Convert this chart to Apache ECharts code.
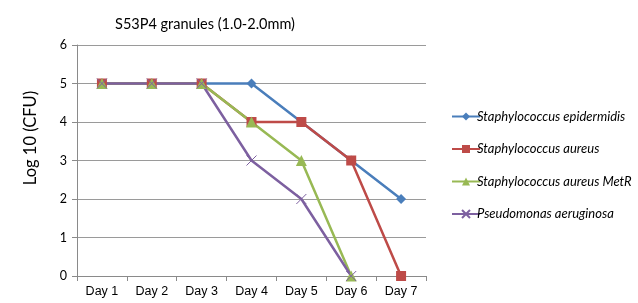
<!DOCTYPE html>
<html>
<head>
<meta charset="utf-8">
<script src="https://cdn.jsdelivr.net/npm/echarts@6/dist/echarts.min.js"></script>
<style>
    html, body { margin: 0; padding: 0; background: #fff; }
    #chart { width: 638px; height: 303px; }
</style>
</head>
<body>
<div id="chart"></div>
<script>
const days = ['Day 1', 'Day 2', 'Day 3', 'Day 4', 'Day 5', 'Day 6', 'Day 7'];
const epidermidis = [5, 5, 5, 5, 4, 3, 2];
const aureus = [5, 5, 5, 4, 4, 3, 0];
const aureusMetR = [5, 5, 5, 4, 3, 0, null];
const pseudomonas = [5, 5, 5, 3, 2, 0, null];
const seriesNames = [
    'Staphylococcus epidermidis',
    'Staphylococcus aureus',
    'Staphylococcus aureus MetR',
    'Pseudomonas aeruginosa',
];

const font = 'Lato, Open Sans, sans-serif';
const arial = 'Liberation Sans, Arial, sans-serif';
const crossPath = 'path://M0,0L10,10M10,0L0,10';

const makeSeries = (name, data, color, symbol, size, extra = {}) => ({
    name,
    type: 'line',
    data,
    symbol,
    symbolSize: size,
    showAllSymbol: true,
    lineStyle: { color, width: 2.5 },
    itemStyle: { color, ...extra },
    emphasis: { disabled: true },
});

const chart = echarts.init(document.getElementById('chart'));
chart.setOption({
    backgroundColor: '#fff',
    animation: false,
    title: {
        text: 'S53P4 granules (1.0-2.0mm)',
        left: 200,
        top: 12,
        textAlign: 'center',
        textStyle: { fontFamily: font, fontSize: 14.5, fontWeight: 'normal', color: '#000' },
    },
    graphic: [{
        type: 'text',
        x: 31,
        y: 138,
        rotation: Math.PI / 2,
        style: {
            text: 'Log 10 (CFU)',
            font: '16.5px ' + font,
            fill: '#000',
            align: 'center',
            verticalAlign: 'middle',
        },
    }],
    grid: { left: 77, right: 212, top: 45, bottom: 27 },
    legend: {
        orient: 'vertical',
        left: 446,
        top: 105,
        itemGap: 19.5,
        itemWidth: 28,
        itemHeight: 10,
        textStyle: { fontFamily: font, fontSize: 13, fontStyle: 'italic', color: '#000', padding: [0, 0, 0, -8] },
        data: seriesNames,
    },
    xAxis: {
        type: 'category',
        data: days,
        boundaryGap: true,
        axisLine: { lineStyle: { color: '#8a8a8a', width: 1 } },
        axisTick: { show: true, length: 5, lineStyle: { color: '#8a8a8a' } },
        axisLabel: { fontFamily: arial, fontSize: 12.5, color: '#000', margin: 9 },
    },
    yAxis: {
        type: 'value',
        min: 0,
        max: 6,
        interval: 1,
        axisLine: { show: true, lineStyle: { color: '#8a8a8a', width: 1 } },
        axisTick: { show: true, length: 5, lineStyle: { color: '#8a8a8a' } },
        axisLabel: { fontFamily: font, fontSize: 12.5, color: '#000', margin: 10 },
        splitLine: { lineStyle: { color: '#9a9a9a', width: 1 } },
    },
    series: [
        makeSeries(seriesNames[0], epidermidis, '#4a7ebb', 'diamond', 10),
        makeSeries(seriesNames[1], aureus, '#be4b48', 'rect', 10),
        makeSeries(seriesNames[2], aureusMetR, '#98b954', 'triangle', 11),
        makeSeries(seriesNames[3], pseudomonas, '#7d60a0', crossPath, 10,
            { borderColor: '#7d60a0', borderWidth: 1 }),
    ],
});
</script>
</body>
</html>
